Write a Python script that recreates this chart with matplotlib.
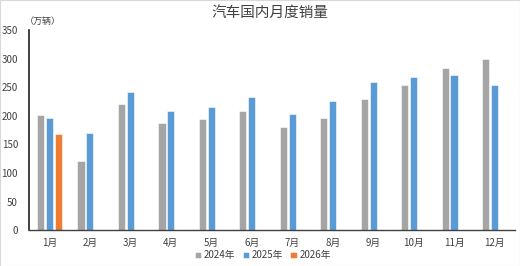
import numpy as np
import matplotlib.pyplot as plt

plt.rcParams['font.family'] = ['Noto Sans CJK SC', 'DejaVu Sans']

months = ['1月', '2月', '3月', '4月', '5月', '6月', '7月', '8月', '9月', '10月', '11月', '12月']
sales_2024 = [201, 121, 221, 187, 195, 208, 180, 196, 229, 253, 284, 299]
sales_2025 = [197, 170, 242, 208, 215, 233, 203, 226, 259, 267, 271, 253]
sales_2026 = [168]
series_names = ['2024年', '2025年', '2026年']
colors = ['#A5A5A5', '#5B9BD5', '#ED7D31']

fig = plt.figure(figsize=(5.2, 2.66), dpi=100)
ax = fig.add_axes([0.056, 0.135, 0.934, 0.752])

x = np.arange(len(months))
w = 0.18
off = 0.22
ax.bar(x - off, sales_2024, w, color=colors[0], edgecolor='white', linewidth=0.4, label=series_names[0])
ax.bar(x, sales_2025, w, color=colors[1], edgecolor='white', linewidth=0.4, label=series_names[1])
ax.bar(x[:len(sales_2026)] + off, sales_2026, w, color=colors[2], edgecolor='white', linewidth=0.4, label=series_names[2])

ax.set_xlim(-0.5, len(months) - 0.5)
ax.set_ylim(0, 350)
ax.set_yticks(range(0, 351, 50))
ax.set_xticks(x)
ax.set_xticklabels(months)
ax.tick_params(axis='both', length=0, labelsize=7, colors='#404040')
ax.tick_params(axis='y', pad=8)
ax.tick_params(axis='x', pad=6)
for s in ['top', 'right']:
    ax.spines[s].set_visible(False)
ax.spines['left'].set_color('#202020')
ax.spines['left'].set_linewidth(1.2)
ax.spines['bottom'].set_color('#404040')
ax.spines['bottom'].set_linewidth(1.0)

fig.text(0.52, 0.953, '汽车国内月度销量', ha='center', va='center', fontsize=10.5, color='#404040')
fig.text(0.048, 0.918, '（万辆）', ha='left', va='center', fontsize=6.5, color='#404040')

fig.legend(loc='center', bbox_to_anchor=(0.505, 0.04), ncol=3, frameon=False,
           fontsize=7, handlelength=0.7, handleheight=0.7, handletextpad=0.2,
           columnspacing=0.8, labelcolor='#404040', borderpad=0.1)

fig.patches.append(plt.Rectangle((0, 0), 1, 1, transform=fig.transFigure, fill=False,
                                 edgecolor='#D9D9D9', linewidth=0.8))

fig.savefig('out.png', dpi=100)
